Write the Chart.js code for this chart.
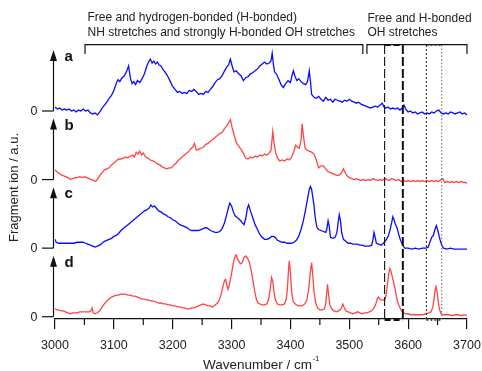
<!DOCTYPE html>
<html><head><meta charset="utf-8">
<script src="https://cdn.jsdelivr.net/npm/chart.js@4.4.0/dist/chart.umd.min.js"></script>
<style>html,body{margin:0;padding:0;background:#fff}#wrap{width:482px;height:371px;position:relative}</style>
</head><body><div id="wrap"><canvas id="c"></canvas></div>
<script>
// Spectra: [wavenumber (cm-1), fragment-ion signal (a.u.)]
const specA = [[3000,4],[3004,2],[3008,3],[3012,1],[3016,2],[3020,1],[3024,2],[3028,0],[3032,1],[3036,-1],[3040,1],[3044,0],[3048,2],[3052,0],[3056,1],[3060,-2],[3064,-3],[3068,-2],[3072,-4],[3076,-1],[3080,3],[3084,6],[3088,9],[3092,13],[3096,16],[3100,21],[3104,28],[3107,32],[3110,30],[3114,34],[3118,36],[3122,41],[3125,46],[3128,34],[3131,28],[3134,30],[3137,27],[3140,31],[3144,29],[3148,33],[3152,38],[3156,46],[3159,50],[3162,53],[3165,49],[3168,51],[3171,48],[3174,50],[3177,47],[3180,46],[3184,42],[3188,39],[3192,35],[3196,30],[3200,25],[3204,22],[3208,19],[3212,20],[3216,18],[3220,19],[3224,18],[3228,21],[3232,20],[3236,22],[3240,20],[3244,17],[3248,18],[3252,17],[3256,20],[3260,19],[3264,22],[3268,25],[3272,29],[3276,32],[3280,33],[3284,36],[3288,41],[3292,45],[3295,47],[3298,53],[3301,46],[3304,40],[3308,41],[3312,38],[3316,36],[3320,31],[3324,34],[3328,35],[3332,38],[3336,39],[3340,41],[3344,43],[3348,46],[3352,48],[3356,50],[3360,48],[3364,49],[3367,51],[3369,59],[3371,48],[3373,40],[3376,38],[3380,33],[3384,27],[3388,24],[3392,28],[3396,31],[3400,29],[3403,37],[3405,41],[3408,35],[3411,31],[3414,33],[3418,30],[3422,28],[3426,27],[3429,30],[3432,41],[3434,30],[3436,17],[3440,14],[3444,13],[3448,15],[3452,12],[3456,10],[3460,14],[3464,11],[3468,12],[3472,9],[3476,12],[3480,11],[3484,10],[3488,9],[3492,11],[3496,10],[3500,12],[3504,10],[3508,9],[3512,8],[3516,9],[3520,7],[3524,6],[3528,5],[3532,4],[3536,3],[3540,4],[3544,5],[3548,4],[3552,6],[3556,8],[3559,4],[3562,3],[3566,4],[3570,2],[3574,3],[3578,2],[3582,3],[3586,1],[3590,3],[3593,6],[3596,2],[3600,-1],[3604,0],[3608,-2],[3612,-1],[3616,-3],[3620,-2],[3624,-1],[3628,-3],[3632,-2],[3636,-3],[3640,-1],[3644,-2],[3648,0],[3652,1],[3656,-2],[3660,-3],[3664,-2],[3668,-3],[3672,-1],[3676,-2],[3680,-3],[3684,-2],[3688,-1],[3692,-3],[3696,-2],[3700,-4]];
const specB = [[3000,10],[3003,8],[3006,7],[3010,5],[3014,4],[3018,3],[3022,2],[3026,0],[3030,1],[3034,2],[3038,2],[3042,3],[3046,2],[3050,3],[3054,2],[3058,1],[3062,0],[3066,-1],[3069,-2],[3072,0],[3076,4],[3080,7],[3084,10],[3088,11],[3092,12],[3096,15],[3100,17],[3104,19],[3108,21],[3112,21],[3116,22],[3120,23],[3124,22],[3128,24],[3132,25],[3135,23],[3138,28],[3141,26],[3144,29],[3147,25],[3150,27],[3154,23],[3158,22],[3162,20],[3166,19],[3170,18],[3174,16],[3178,15],[3182,13],[3186,12],[3190,11],[3194,12],[3198,12],[3202,15],[3206,17],[3210,20],[3214,22],[3218,24],[3222,26],[3226,28],[3230,31],[3234,33],[3237,37],[3240,30],[3244,31],[3248,32],[3252,33],[3256,36],[3260,37],[3264,39],[3268,41],[3272,43],[3276,45],[3280,47],[3284,48],[3288,52],[3292,55],[3295,58],[3298,61],[3301,53],[3304,46],[3308,38],[3312,34],[3316,31],[3320,27],[3324,22],[3328,21],[3332,23],[3336,22],[3340,24],[3344,23],[3348,25],[3352,24],[3356,26],[3360,25],[3364,27],[3367,30],[3370,49],[3372,38],[3375,27],[3378,22],[3382,19],[3386,20],[3390,19],[3394,21],[3398,20],[3402,23],[3406,29],[3409,35],[3412,33],[3415,32],[3418,40],[3420,57],[3422,45],[3425,32],[3428,30],[3432,29],[3436,28],[3440,26],[3444,20],[3448,12],[3452,14],[3456,14],[3460,11],[3464,8],[3468,7],[3472,6],[3476,5],[3480,4],[3484,5],[3488,8],[3490,11],[3493,7],[3496,4],[3500,2],[3504,1],[3508,0],[3512,1],[3516,0],[3520,-1],[3524,0],[3528,-1],[3532,0],[3536,-1],[3540,1],[3544,0],[3548,-1],[3552,0],[3556,-1],[3560,1],[3564,0],[3568,-1],[3572,1],[3576,0],[3580,-1],[3584,0],[3588,-2],[3592,-1],[3596,-2],[3600,-1],[3604,-2],[3608,-1],[3612,-2],[3616,-1],[3620,-2],[3624,-1],[3628,-2],[3632,-1],[3636,-2],[3640,-1],[3644,-2],[3648,-1],[3652,-2],[3656,0],[3659,1],[3662,-3],[3666,-2],[3670,-3],[3674,-2],[3678,-3],[3682,-2],[3686,-3],[3690,-2],[3694,-3],[3698,-3],[3700,-4]];
const specC = [[3000,9],[3002,6],[3006,5],[3010,5],[3014,5],[3020,5],[3026,5],[3032,5],[3038,6],[3044,6],[3048,6],[3052,5],[3056,4],[3060,3],[3064,2],[3068,1],[3072,2],[3076,3],[3080,5],[3084,7],[3088,8],[3092,9],[3096,10],[3100,12],[3104,13],[3108,15],[3112,18],[3116,20],[3120,22],[3124,24],[3128,26],[3132,28],[3136,30],[3140,32],[3144,34],[3148,36],[3152,38],[3156,39],[3160,41],[3163,44],[3166,42],[3169,43],[3172,41],[3176,38],[3180,37],[3184,35],[3188,34],[3192,32],[3196,31],[3200,29],[3204,28],[3208,26],[3212,24],[3216,23],[3220,22],[3224,21],[3228,19],[3232,18],[3236,18],[3240,18],[3244,18],[3248,19],[3252,20],[3256,21],[3260,20],[3264,18],[3268,17],[3272,16],[3276,16],[3280,17],[3284,20],[3288,26],[3292,35],[3295,42],[3297,46],[3300,43],[3303,37],[3306,33],[3310,31],[3314,29],[3318,26],[3321,24],[3324,30],[3327,41],[3329,44],[3332,38],[3336,31],[3340,24],[3344,19],[3348,14],[3352,11],[3356,9],[3360,9],[3364,10],[3368,12],[3371,12],[3374,11],[3378,8],[3382,7],[3386,6],[3390,6],[3394,5],[3398,5],[3402,5],[3406,6],[3410,8],[3414,12],[3418,19],[3422,28],[3426,40],[3429,50],[3432,60],[3434,63],[3436,60],[3438,52],[3440,44],[3442,32],[3445,21],[3448,19],[3452,18],[3456,17],[3460,16],[3462,20],[3464,28],[3466,22],[3468,11],[3472,10],[3476,11],[3479,16],[3481,26],[3483,34],[3485,28],[3487,16],[3490,9],[3494,7],[3498,5],[3502,5],[3506,4],[3510,4],[3514,4],[3518,3],[3522,3],[3526,2],[3530,2],[3534,2],[3538,3],[3540,8],[3542,16],[3544,11],[3546,5],[3550,4],[3554,3],[3558,5],[3562,8],[3566,12],[3569,18],[3572,26],[3574,32],[3576,29],[3578,25],[3581,21],[3584,14],[3587,8],[3590,4],[3594,0],[3600,0],[3606,-1],[3612,0],[3618,-1],[3624,0],[3630,0],[3634,1],[3637,6],[3640,11],[3643,13],[3645,18],[3648,23],[3650,19],[3652,14],[3654,9],[3657,3],[3660,0],[3666,-1],[3672,0],[3678,-1],[3684,-1],[3690,-1],[3696,-1],[3700,-1]];
const specD = [[3000,8],[3003,7],[3006,7],[3010,6],[3014,6],[3018,5],[3022,4],[3026,3],[3030,4],[3034,4],[3038,4],[3042,5],[3046,5],[3050,5],[3054,5],[3058,5],[3061,6],[3063,9],[3065,4],[3068,3],[3072,4],[3076,6],[3080,10],[3084,13],[3088,16],[3092,18],[3096,20],[3100,21],[3104,22],[3108,22],[3112,23],[3116,23],[3120,23],[3124,22],[3128,22],[3132,21],[3136,21],[3140,20],[3144,19],[3148,18],[3152,18],[3156,17],[3160,17],[3164,16],[3168,16],[3172,15],[3176,14],[3180,14],[3184,13],[3188,13],[3192,12],[3196,12],[3200,11],[3204,11],[3208,10],[3212,10],[3216,9],[3220,9],[3224,8],[3228,8],[3232,9],[3236,9],[3240,10],[3244,11],[3248,12],[3252,13],[3256,12],[3260,11],[3264,11],[3268,10],[3272,12],[3276,14],[3279,17],[3282,22],[3285,30],[3288,37],[3290,38],[3292,32],[3294,28],[3296,32],[3298,38],[3300,44],[3303,55],[3306,62],[3308,63],[3310,59],[3312,57],[3315,54],[3318,55],[3321,60],[3324,62],[3327,60],[3330,56],[3333,48],[3336,38],[3339,27],[3342,18],[3345,14],[3348,13],[3352,12],[3356,12],[3360,13],[3363,18],[3366,30],[3368,40],[3370,36],[3372,26],[3374,18],[3378,13],[3382,12],[3386,12],[3390,13],[3393,18],[3395,30],[3397,50],[3398,57],[3400,45],[3402,25],[3405,15],[3410,12],[3415,11],[3420,11],[3424,13],[3428,17],[3431,28],[3433,40],[3435,52],[3436,55],[3438,42],[3440,26],[3443,14],[3446,9],[3450,7],[3454,7],[3458,8],[3460,14],[3462,26],[3463,33],[3465,22],[3467,12],[3470,8],[3474,6],[3478,5],[3482,6],[3486,8],[3489,13],[3491,10],[3494,6],[3498,5],[3502,4],[3506,3],[3510,4],[3514,5],[3518,4],[3522,3],[3526,4],[3530,4],[3534,5],[3538,6],[3542,9],[3545,13],[3548,19],[3550,20],[3552,18],[3555,17],[3558,17],[3561,18],[3563,24],[3565,34],[3567,44],[3569,49],[3571,46],[3573,41],[3575,36],[3578,28],[3581,18],[3584,12],[3588,7],[3592,4],[3596,3],[3600,3],[3605,2],[3610,2],[3615,2],[3620,2],[3625,2],[3630,3],[3635,4],[3639,5],[3642,10],[3644,18],[3646,28],[3647,32],[3649,26],[3651,16],[3653,8],[3656,3],[3660,2],[3665,2],[3670,2],[3675,1],[3680,2],[3685,2],[3690,1],[3695,2],[3700,1]];

const panelLabels = ['a','b','c','d'];
const panelOffsets = [210, 140, 70, 0];   // vertical stacking of the traces (a.u.)
const panelColors = ['#0a0aff','#ff4444','#0a0aff','#ff4444'];
const xTickLabels = [3000,3100,3200,3300,3400,3500,3600,3700];
const bracketText = [
  ['Free and hydrogen-bonded (H-bonded)','NH stretches and strongly H-bonded OH stretches'],
  ['Free and H-bonded','OH stretches']
];
const bracketRanges = [[3051,3523],[3530,3700]];
const markLines = [3560,3591,3631,3657];

const specs = [specA, specB, specC, specD];
const datasets = specs.map((s,i)=>({
  label: panelLabels[i],
  data: s.map(p=>({x:p[0], y:p[1]+panelOffsets[i]})),
  borderColor: panelColors[i],
  borderWidth: 1.3,
  pointRadius: 0,
  tension: 0,
  fill: false
}));

const FONT = '"Liberation Sans", Arial, Helvetica, sans-serif';

const deco = {
  id: 'deco',
  afterDatasetsDraw(chart){
    const ctx = chart.ctx, xs = chart.scales.x, ys = chart.scales.y, ca = chart.chartArea;
    const X = v => xs.getPixelForValue(v);
    ctx.save();
    ctx.strokeStyle = '#111'; ctx.fillStyle = '#111';
    // segmented y axis with arrows
    const ax = ca.left - 1.5;
    panelOffsets.forEach((off,i)=>{
      const base = ys.getPixelForValue(off);
      const tip = base - 61;
      ctx.lineWidth = 1.2; ctx.setLineDash([]);
      ctx.beginPath(); ctx.moveTo(ax, base); ctx.lineTo(ax, tip+6); ctx.stroke();
      ctx.beginPath(); ctx.moveTo(ax, tip); ctx.lineTo(ax-3.5, tip+11); ctx.lineTo(ax+3.5, tip+11); ctx.closePath(); ctx.fill();
      ctx.beginPath(); ctx.moveTo(42, base); ctx.lineTo(ax, base); ctx.stroke();
      ctx.font = '12.5px ' + FONT; ctx.textAlign = 'right'; ctx.textBaseline = 'middle';
      ctx.fillStyle = '#222'; ctx.fillText('0', 37.5, base+0.5);
      ctx.font = 'bold 15px ' + FONT; ctx.textAlign = 'left'; ctx.textBaseline = 'alphabetic';
      ctx.fillStyle = '#111'; ctx.fillText(panelLabels[i], 64.5, base - 50);
    });
    // minor x ticks
    ctx.lineWidth = 1.2;
    for (let v = 3050; v < 3700; v += 100) {
      ctx.beginPath(); ctx.moveTo(X(v), ca.bottom); ctx.lineTo(X(v), ca.bottom+6); ctx.stroke();
    }
    // brackets
    const by = 44.7, bb = 54;
    bracketRanges.forEach(r=>{
      ctx.beginPath(); ctx.moveTo(X(r[0]), bb); ctx.lineTo(X(r[0]), by); ctx.lineTo(X(r[1]), by); ctx.lineTo(X(r[1]), bb); ctx.stroke();
    });
    // dashed / dotted boxes
    const top = 45, bot = ca.bottom;
    const vline = (x, lw, dash, col) => { ctx.strokeStyle = col; ctx.lineWidth = lw; ctx.setLineDash(dash); ctx.beginPath(); ctx.moveTo(x, top); ctx.lineTo(x, bot); ctx.stroke(); };
    const hline = (x1, x2, y, lw, dash, col) => { ctx.strokeStyle = col; ctx.lineWidth = lw; ctx.setLineDash(dash); ctx.beginPath(); ctx.moveTo(x1, y); ctx.lineTo(x2, y); ctx.stroke(); };
    vline(X(markLines[0]), 1.1, [9,3], '#111');
    vline(X(markLines[1]), 2, [9,3], '#111');
    hline(X(markLines[0]), X(markLines[1]), top, 2, [6,3], '#111');
    hline(X(markLines[0]), X(markLines[1]), bot+1, 2, [6,3], '#111');
    vline(X(markLines[2]), 1, [2,2], '#222');
    vline(X(markLines[3]), 1, [1.5,2], '#666');
    hline(X(markLines[2]), X(markLines[3]), top, 1.5, [2,2], '#333');
    hline(X(markLines[2]), X(markLines[3]), bot+1, 1.5, [2,2], '#333');
    ctx.setLineDash([]);
    // bracket texts
    ctx.fillStyle = '#222'; ctx.font = '12px ' + FONT; ctx.textAlign = 'left'; ctx.textBaseline = 'middle';
    ctx.fillText(bracketText[0][0], 87.5, 17.5);
    ctx.fillText(bracketText[0][1], 87.5, 32.3);
    ctx.fillText(bracketText[1][0], 367.5, 18.8);
    ctx.fillText(bracketText[1][1], 367.5, 32.3);
    // x title with superscript
    ctx.font = '13.5px ' + FONT; ctx.textBaseline = 'alphabetic';
    const t1 = 'Wavenumber / cm', t2 = '-1';
    const w1 = ctx.measureText(t1).width;
    ctx.font = '8px ' + FONT; const w2 = ctx.measureText(t2).width;
    const cx = (ca.left + ca.right)/2, sx = cx - (w1+w2)/2;
    ctx.font = '13.5px ' + FONT; ctx.textAlign = 'left'; ctx.fillText(t1, sx, 369);
    ctx.font = '8px ' + FONT; ctx.fillText(t2, sx + w1 + 0.5, 361);
    // y title
    ctx.save(); ctx.translate(14, 187.5); ctx.rotate(-Math.PI/2);
    ctx.font = '13px ' + FONT; ctx.textAlign = 'center'; ctx.textBaseline = 'middle';
    ctx.fillText('Fragment ion / a.u.', 0, 0);
    ctx.restore();
    ctx.restore();
  }
};

new Chart(document.getElementById('c'), {
  type: 'line',
  data: { datasets },
  options: {
    responsive: true, maintainAspectRatio: false, animation: false, devicePixelRatio: 1,
    layout: { padding: { left: 55, right: 15, top: 40, bottom: 0 } },
    plugins: { legend: { display: false }, tooltip: { enabled: false } },
    scales: {
      x: {
        type: 'linear', min: 3000, max: 3700,
        afterFit: s => { s.height = 52; s.paddingLeft = 0; s.paddingRight = 0; },
        border: { display: true, color: '#111', width: 1.2 },
        grid: { display: true, drawOnChartArea: false, drawTicks: true, tickLength: 10, lineWidth: 1.2,
                color: c => (c.tick && c.tick.value % 100 === 0) ? '#111' : 'rgba(0,0,0,0)' },
        ticks: { stepSize: 50, autoSkip: false, maxRotation: 0, padding: 9, color: '#222',
                 font: { family: FONT, size: 12.5 },
                 callback: v => xTickLabels.includes(v) ? String(v) : '' },
        title: { display: false }
      },
      y: { type: 'linear', display: false, min: -2.35, max: 282.5 }
    }
  },
  plugins: [deco]
});
</script>
</body></html>
